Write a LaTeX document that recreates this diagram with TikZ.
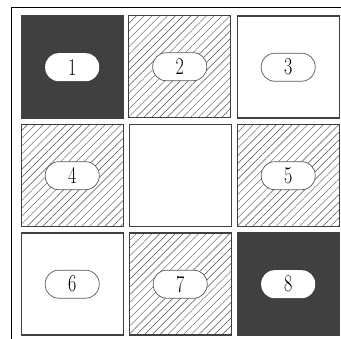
\documentclass[tikz,border=0pt]{standalone}
\usetikzlibrary{patterns.meta}
\tikzset{
  cellbox/.style={draw=black!75, line width=1.4pt, minimum width=102pt, minimum height=102pt, inner sep=0pt, anchor=north west},
  darkcell/.style={cellbox, fill=black!75},
  hatchcell/.style={cellbox, pattern={Lines[angle=45,distance=5.5pt,line width=0.45pt]}, pattern color=black!70},
  plaincell/.style={cellbox, fill=white},
  pill/.style={fill=white, draw=black!65, line width=0.7pt, rounded corners=13.5pt, minimum width=54pt, minimum height=28pt, inner sep=0pt, font=\fontsize{24}{24}\selectfont},
  pilldark/.style={pill, draw=none},
}
\newcommand{\dg}[1]{\scalebox{0.75}[1]{#1}}
\begin{document}
\begin{tikzpicture}[x=1pt,y=-1pt]
\useasboundingbox (0,0) rectangle (341,339);
\draw[line width=1.2pt] (11.5,339) -- (11.5,7.5) -- (341,7.5);
% row 1
\node[darkcell] (c1) at (20.5,15.5) {};
\node[hatchcell] (c2) at (128.5,15.5) {};
\node[plaincell] (c3) at (236.5,15.5) {};
% row 2
\node[hatchcell] (c4) at (20.5,124) {};
\node[plaincell] (c0) at (128.5,124) {};
\node[hatchcell] (c5) at (236.5,124) {};
% row 3
\node[plaincell] (c6) at (20.5,232.5) {};
\node[hatchcell] (c7) at (128.5,232.5) {};
\node[darkcell] (c8) at (236.5,232.5) {};
% pills
\node[pilldark] (p1) at (c1.center) {\dg{1}};
\node[pill] (p2) at (c2.center) {\dg{2}};
\node[pill] (p3) at (c3.center) {\dg{3}};
\node[pill] (p4) at (c4.center) {\dg{4}};
\node[pill] (p5) at (c5.center) {\dg{5}};
\node[pill] (p6) at (c6.center) {\dg{6}};
\node[pill] (p7) at (c7.center) {\dg{7}};
\node[pilldark] (p8) at (c8.center) {\dg{8}};
\end{tikzpicture}
\end{document}
